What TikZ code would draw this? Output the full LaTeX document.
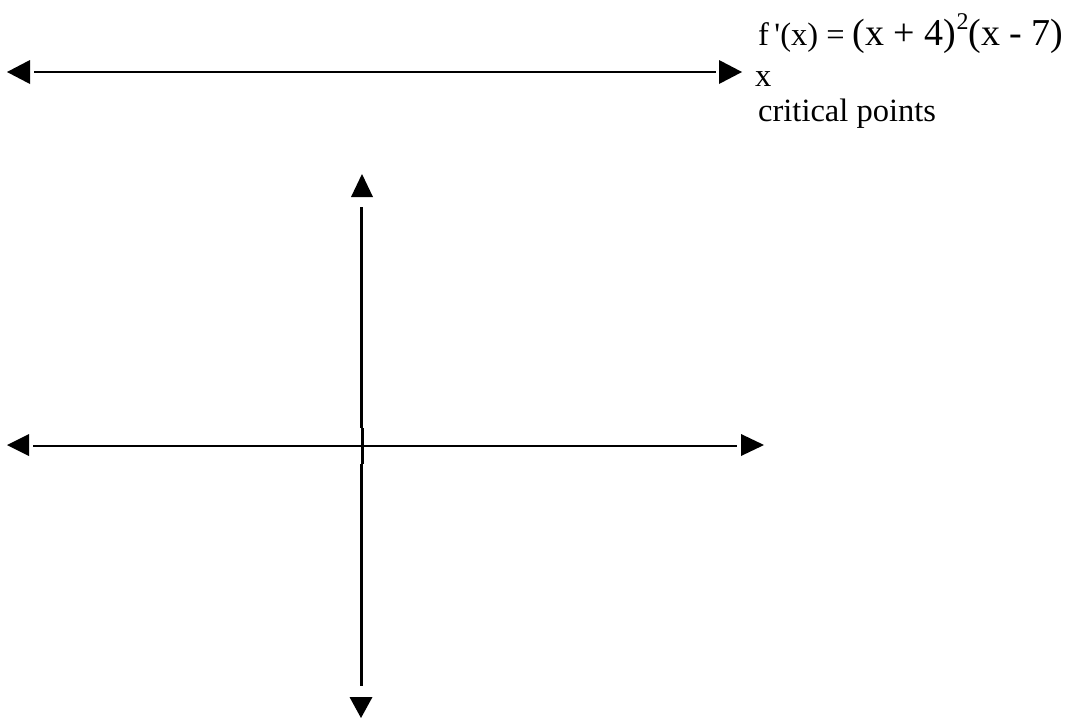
\documentclass[tikz,border=0pt]{standalone}
\usepackage{fontspec}
\setmainfont{Liberation Serif}
\tikzset{
  axis/.style={line width=2.6pt, line cap=butt},
  tip/.style={fill=black, draw=none},
  lbl/.style={inner sep=0pt, anchor=base west},
}
\newcommand{\smallsz}{\fontsize{32.5}{36}\selectfont}
\newcommand{\bigsz}{\fontsize{38}{44}\selectfont}
\newcommand{\supsz}{\fontsize{24}{28}\selectfont}
\begin{document}
\begin{tikzpicture}[x=1pt,y=-1pt]
\useasboundingbox (0,0) rectangle (1069,718);
% top number line
\coordinate (tl) at (34,72);
\coordinate (tr) at (716,72);
\draw[axis] (tl) -- (tr);
\fill[tip] (7,72) -- (30,60) -- (30,84) -- cycle;
\fill[tip] (742,72) -- (719,60) -- (719,84) -- cycle;
% labels
\node[lbl] (fx) at (758,45) {{\smallsz f\,\textquotesingle(x) = }{\bigsz(x + 4)}\raisebox{16pt}{\supsz 2}{\bigsz(x - 7)}};
\node[lbl] (xl) at (755,86) {\smallsz x};
\node[lbl] (cp) at (758,121) {\smallsz critical points};
% horizontal axis
\coordinate (hl) at (33,446);
\coordinate (hr) at (737,446);
\draw[axis] (hl) -- (hr);
\fill[tip] (7,445) -- (29,434) -- (29,456) -- cycle;
\fill[tip] (764,445) -- (741,434) -- (741,456) -- cycle;
% vertical axis
\coordinate (vt) at (361.6,207);
\coordinate (vm1) at (361.6,428);
\coordinate (vm2) at (362.6,428);
\coordinate (vm3) at (362.6,464);
\coordinate (vm4) at (361.3,464);
\coordinate (vb) at (361.3,686);
\draw[axis] (vt) -- (vm1);
\draw[axis] (vm2) -- (vm3);
\draw[axis] (vm4) -- (vb);
\fill[tip] (362,174) -- (351,197) -- (373,197) -- cycle;
\fill[tip] (361,718) -- (349.5,697) -- (372.5,697) -- cycle;
\end{tikzpicture}
\end{document}
